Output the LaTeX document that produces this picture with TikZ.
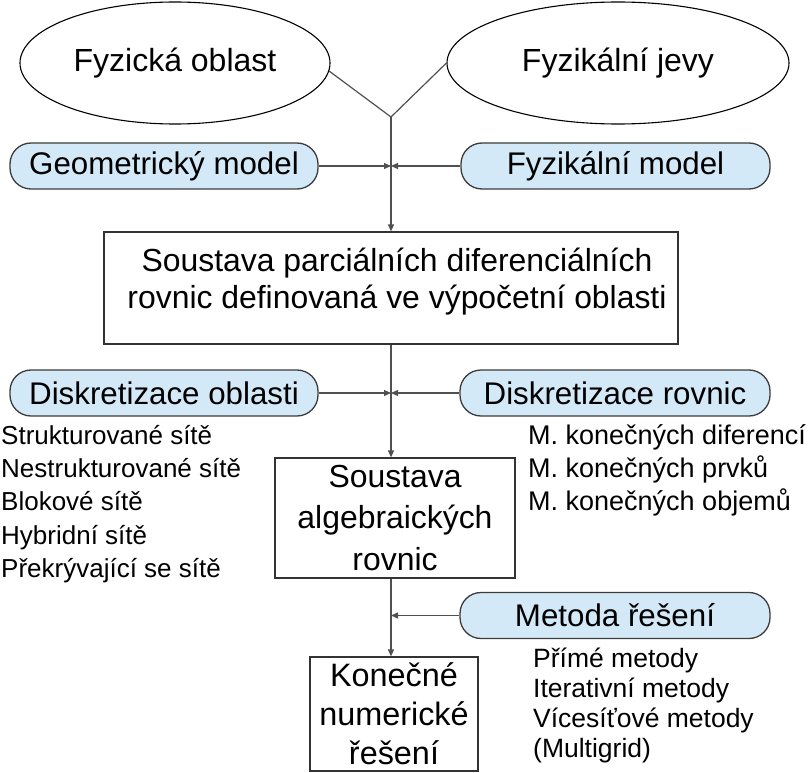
\documentclass[tikz,border=0pt]{standalone}
\usepackage{fontspec}
\setmainfont{Liberation Sans}
\usetikzlibrary{arrows.meta,shapes.geometric}
\definecolor{pillfill}{RGB}{212,233,247}
\definecolor{pilldraw}{RGB}{60,60,60}
\definecolor{wirecol}{RGB}{80,80,80}
\begin{document}
\begin{tikzpicture}[x=1pt,y=-1pt,
  oval/.style={ellipse, draw=black, line width=1.1pt, inner sep=0pt,
    minimum height=122pt, font=\fontsize{32}{36}\selectfont},
  pill/.style={draw=pilldraw, fill=pillfill, line width=1.3pt, rounded corners=21pt,
    minimum width=308pt, minimum height=46pt, inner sep=0pt,
    font=\fontsize{31.3}{35}\selectfont},
  plainbox/.style={draw=black!80, line width=1.2pt, inner sep=0pt},
  bigtext/.style={inner sep=0pt, align=center, font=\fontsize{31.9}{37}\selectfont},
  listtxt/.style={anchor=base west, inner sep=0pt, font=\fontsize{26}{30}\selectfont},
  wire/.style={draw=wirecol, line width=1.2pt},
  arr/.style={wire, -{Triangle[length=7pt,width=6pt]}},
]
\useasboundingbox (0,0) rectangle (809,773);

% top: the two sources
\node[oval, minimum width=310pt] (fobl) at (175,63) {Fyzická oblast};
\node[oval, minimum width=342pt] (fjev) at (618,63) {Fyzikální jevy};
\coordinate (J) at (391,117);
\draw[wire] (fobl.-3) -- (J) -- (fjev.west);

% models
\node[pill] (geo) at (164,166) {Geometrický model};
\node[pill, minimum width=309pt] (fmod) at (615.5,166) {Fyzikální model};

% system of PDEs
\node[plainbox, minimum width=574pt, minimum height=112pt] (pde) at (391,288) {};
\node[bigtext, xshift=6pt, yshift=6pt] (pdetext) at (pde)
  {Soustava parciálních diferenciálních\\rovnic definovaná ve výpočetní oblasti};

\draw[arr] (J) -- (pde.north);
\draw[arr] (geo.east) -- (geo.east -| J);
\draw[arr] (fmod.west) -- (fmod.west -| J);

% discretisation
\node[pill] (dobl) at (164,393) {Diskretizace oblasti};
\node[pill, minimum width=310pt] (drov) at (615,393) {Diskretizace rovnic};

\foreach \t [count=\i] in {Strukturované sítě, Nestrukturované sítě, Blokové sítě,
    Hybridní sítě, Překrývající se sítě}
  \node[listtxt] (sit\i) at (1,{444.3+33.25*(\i-1)}) {\t};
\foreach \t [count=\i] in {M. konečných diferencí, M. konečných prvků,
    M. konečných objemů}
  \node[listtxt, font=\fontsize{27}{30}\selectfont] (mkon\i) at (528,{444.3+33.25*(\i-1)}) {\t};

% algebraic system
\node[plainbox, minimum width=240pt, minimum height=120pt, align=center,
  font=\fontsize{31.9}{41.5}\selectfont] (alg) at (395,518)
  {Soustava\\algebraických\\rovnic};

\draw[arr] (pde.south) -- (pde.south |- alg.north);
\draw[arr] (dobl.east) -- (dobl.east -| pde.south);
\draw[arr] (drov.west) -- (drov.west -| pde.south);

% solution method
\node[pill, minimum width=310pt] (met) at (615,615.5) {Metoda řešení};
\foreach \t [count=\i] in {Přímé metody, Iterativní metody, Vícesíťové metody,
    (Multigrid)}
  \node[listtxt, font=\fontsize{26.5}{30}\selectfont] (res\i) at (533,{667+30*(\i-1)}) {\t};

% final result
\node[plainbox, minimum width=168pt, minimum height=114pt, align=center,
  font=\fontsize{32.4}{39}\selectfont] (kon) at (394,714)
  {Konečné\\numerické\\řešení};

\draw[arr] (pde.south |- alg.south) -- (pde.south |- kon.north);
\draw[arr] (met.west) -- (met.west -| pde.south);
\end{tikzpicture}
\end{document}
